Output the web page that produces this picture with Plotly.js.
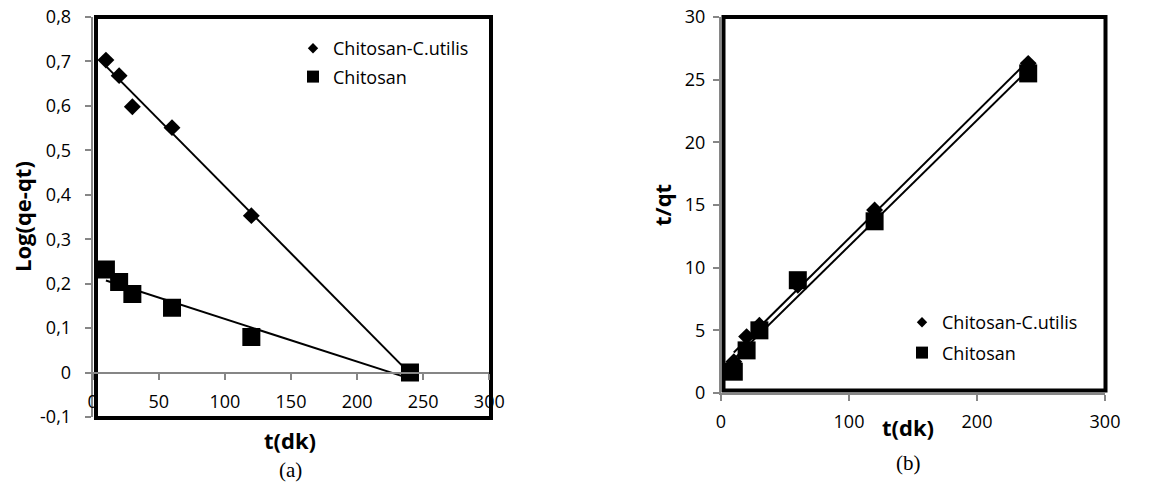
<!DOCTYPE html>
<html>
<head>
<meta charset="utf-8">
<script src="https://cdn.plot.ly/plotly-3.0.1.min.js"></script>
<style>html,body{margin:0;padding:0;background:#fff;}#chart{width:1152px;height:483px;}</style>
</head>
<body>
<div id="chart"></div>
<script>
// ---- data ----
const tMin = [10, 20, 30, 60, 120, 240];
const logCU = [0.703, 0.668, 0.598, 0.551, 0.353, 0];   // Chitosan-C.utilis, panel (a)
const logCh = [0.232, 0.204, 0.177, 0.146, 0.080, 0];   // Chitosan, panel (a)
const tqtCU = [2.5, 4.5, 5.4, 8.6, 14.6, 26.3];          // Chitosan-C.utilis, panel (b)
const tqtCh = [1.7, 3.4, 5.0, 9.0, 13.7, 25.5];          // Chitosan, panel (b)
const seriesNames = ["Chitosan-C.utilis", "Chitosan"];
const yTicksA = [-0.1, 0, 0.1, 0.2, 0.3, 0.4, 0.5, 0.6, 0.7, 0.8];
const yTickTextA = ["-0,1", "0", "0,1", "0,2", "0,3", "0,4", "0,5", "0,6", "0,7", "0,8"];
const xTicksA = [0, 50, 100, 150, 200, 250, 300];
const xTicksB = [0, 100, 200, 300];
const yTicksB = [0, 5, 10, 15, 20, 25, 30];

// linear trendline (least squares) over the data's x range
function trend(x, y) {
  const n = x.length;
  const mx = x.reduce((a, b) => a + b, 0) / n;
  const my = y.reduce((a, b) => a + b, 0) / n;
  let sxy = 0, sxx = 0;
  for (let i = 0; i < n; i++) { sxy += (x[i] - mx) * (y[i] - my); sxx += (x[i] - mx) ** 2; }
  const m = sxy / sxx, c = my - m * mx;
  const xs = [Math.min(...x), Math.max(...x)];
  return { x: xs, y: xs.map(v => m * v + c) };
}

const W = 1152, H = 483;
const px = v => v / W, py = v => 1 - v / H;
const FONT = "Open Sans, Liberation Sans, sans-serif";
const GRAY = "#868686";

const trA1 = trend(tMin, logCU), trA2 = trend(tMin, logCh);
const trB1 = trend(tMin, tqtCU), trB2 = trend(tMin, tqtCh);

const mk = (sym, size) => ({ symbol: sym, size: size, color: "#000" });
const data = [
  // panel (a)
  { x: tMin, y: logCU, type: "scatter", mode: "markers", marker: mk("diamond", 13), xaxis: "x", yaxis: "y", showlegend: false },
  { x: tMin, y: logCh, type: "scatter", mode: "markers", marker: mk("square", 18), xaxis: "x", yaxis: "y", showlegend: false },
  { x: trA1.x, y: trA1.y, type: "scatter", mode: "lines", line: { color: "#000", width: 2 }, xaxis: "x", yaxis: "y", showlegend: false },
  { x: trA2.x, y: trA2.y, type: "scatter", mode: "lines", line: { color: "#000", width: 2 }, xaxis: "x", yaxis: "y", showlegend: false },
  // panel (b)
  { x: tMin, y: tqtCU, type: "scatter", mode: "markers", marker: mk("diamond", 13), xaxis: "x2", yaxis: "y2", showlegend: false },
  { x: tMin, y: tqtCh, type: "scatter", mode: "markers", marker: mk("square", 18), xaxis: "x2", yaxis: "y2", showlegend: false },
  { x: trB1.x, y: trB1.y, type: "scatter", mode: "lines", line: { color: "#000", width: 2 }, xaxis: "x2", yaxis: "y2", showlegend: false },
  { x: trB2.x, y: trB2.y, type: "scatter", mode: "lines", line: { color: "#000", width: 2 }, xaxis: "x2", yaxis: "y2", showlegend: false },
  // legend entries
  { x: [null], y: [null], type: "scatter", mode: "markers", name: seriesNames[0], marker: mk("diamond", 8), xaxis: "x", yaxis: "y", legend: "legend", legendgroup: "a1" },
  { x: [null], y: [null], type: "scatter", mode: "markers", name: seriesNames[1], marker: mk("square", 12), xaxis: "x", yaxis: "y", legend: "legend", legendgroup: "a2" },
  { x: [null], y: [null], type: "scatter", mode: "markers", name: seriesNames[0], marker: mk("diamond", 8), xaxis: "x2", yaxis: "y2", legend: "legend2", legendgroup: "b1" },
  { x: [null], y: [null], type: "scatter", mode: "markers", name: seriesNames[1], marker: mk("square", 12), xaxis: "x2", yaxis: "y2", legend: "legend2", legendgroup: "b2" }
];

const tickFont = { family: FONT, size: 18, color: "#000" };
const axBase = {
  showgrid: false, zeroline: false, showline: true, linecolor: GRAY, linewidth: 2,
  ticks: "outside", ticklen: 6, tickwidth: 2, tickcolor: GRAY, tickfont: tickFont, fixedrange: true
};
const titleFont = { family: FONT, size: 22, color: "#000", weight: "bold" };
const capFont = { family: "Liberation Serif, Times New Roman, serif", size: 21, color: "#000" };
const ann = (text, x, y, font, angle) => ({ text: text, xref: "paper", yref: "paper", x: px(x), y: py(y),
  xanchor: "center", yanchor: "middle", textangle: angle || 0, showarrow: false, font: font });

const layout = {
  width: W, height: H,
  margin: { l: 0, r: 0, t: 0, b: 0 },
  paper_bgcolor: "#fff", plot_bgcolor: "rgba(0,0,0,0)",
  separators: ", ",
  xaxis: Object.assign({}, axBase, { domain: [px(92.7), px(489.3)], range: [0, 300], tickvals: xTicksA,
    anchor: "free", position: py(373), ticklabelstandoff: 6 }),
  yaxis: Object.assign({}, axBase, { domain: [py(417), py(17)], range: [-0.1, 0.8], tickvals: yTicksA, ticktext: yTickTextA,
    anchor: "x", ticklabelstandoff: 10 }),
  xaxis2: Object.assign({}, axBase, { domain: [px(721), px(1105)], range: [0, 300], tickvals: xTicksB,
    anchor: "y2", ticklabelstandoff: 5 }),
  yaxis2: Object.assign({}, axBase, { domain: [py(393), py(17)], range: [0, 30], tickvals: yTicksB,
    anchor: "x2", ticklabelstandoff: 4 }),
  shapes: [
    { type: "rect", xref: "paper", yref: "paper", x0: px(96), x1: px(491), y0: py(418), y1: py(17),
      line: { color: "#000", width: 4 }, layer: "below" },
    { type: "rect", xref: "paper", yref: "paper", x0: px(723.5), x1: px(1105.5), y0: py(390.5), y1: py(17),
      line: { color: "#000", width: 4 }, layer: "below" }
  ],
  legend: { x: px(293), y: py(30), xanchor: "left", yanchor: "top", bgcolor: "rgba(0,0,0,0)",
    font: { family: FONT, size: 18, color: "#000" }, traceorder: "grouped", tracegroupgap: 2, itemsizing: "trace" },
  legend2: { x: px(902), y: py(304), xanchor: "left", yanchor: "top", bgcolor: "rgba(0,0,0,0)",
    font: { family: FONT, size: 18, color: "#000" }, traceorder: "grouped", tracegroupgap: 4, itemsizing: "trace" },
  annotations: [
    ann("Log(qe-qt)", 22, 217, titleFont, -90),
    ann("t(dk)", 290, 440, titleFont),
    ann("(a)", 290, 470, capFont),
    ann("t/qt", 662, 205, titleFont, -90),
    ann("t(dk)", 908, 427, titleFont),
    ann("(b)", 908, 463, capFont)
  ]
};

Plotly.newPlot("chart", data, layout, { displayModeBar: false, staticPlot: true });
</script>
</body>
</html>
